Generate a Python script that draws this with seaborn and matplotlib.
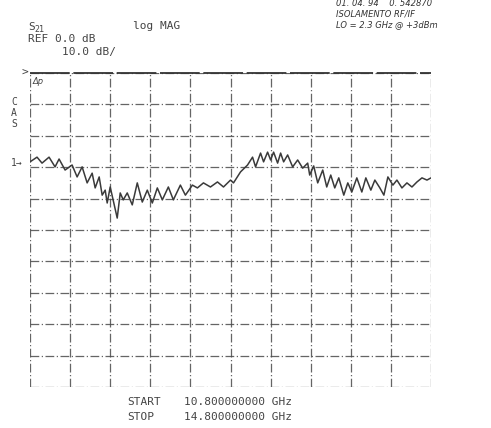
import matplotlib
matplotlib.use('Agg')
import matplotlib.pyplot as plt
import seaborn as sns
import pandas as pd
import numpy as np

# S21 trace (GHz, dB)
freq = [10.80, 10.87, 10.92, 10.99, 11.05, 11.09, 11.15, 11.22, 11.27, 11.32,
        11.37, 11.42, 11.45, 11.49, 11.52, 11.55, 11.57, 11.60, 11.67, 11.70,
        11.73, 11.77, 11.82, 11.87, 11.92, 11.97, 12.02, 12.07, 12.12, 12.18,
        12.23, 12.30, 12.35, 12.42, 12.47, 12.53, 12.60, 12.67, 12.73, 12.80,
        12.83, 12.90, 12.97, 13.02, 13.05, 13.10, 13.13, 13.17, 13.20, 13.23,
        13.27, 13.30, 13.33, 13.37, 13.42, 13.47, 13.52, 13.57, 13.59, 13.63,
        13.67, 13.72, 13.76, 13.80, 13.84, 13.88, 13.93, 13.97, 14.01, 14.06,
        14.11, 14.15, 14.20, 14.24, 14.29, 14.33, 14.37, 14.42, 14.46, 14.51,
        14.56, 14.61, 14.66, 14.71, 14.76, 14.80]
s21 = [-28.3, -26.8, -28.7, -26.8, -29.9, -27.4, -30.9, -29.3, -33.1, -29.9,
       -35.0, -31.9, -36.6, -33.1, -38.9, -37.3, -41.4, -36.3, -46.2, -38.2,
       -40.4, -38.2, -42.0, -35.0, -41.1, -37.3, -41.4, -36.6, -40.4, -36.3,
       -40.4, -35.7, -38.9, -35.7, -36.6, -35.0, -36.3, -34.7, -36.3, -34.1,
       -35.0, -31.5, -29.3, -26.8, -29.9, -25.5, -28.3, -25.2, -27.7, -25.2,
       -28.7, -25.5, -28.3, -26.1, -29.9, -27.7, -30.3, -28.7, -32.5, -29.6,
       -35.0, -30.9, -36.3, -32.5, -36.6, -33.4, -38.9, -35.0, -37.9, -33.4,
       -37.9, -33.4, -37.3, -34.1, -36.6, -38.9, -33.1, -35.7, -34.1, -36.6,
       -35.0, -36.3, -34.7, -33.4, -34.1, -33.4]

f_start, f_stop = 10.8, 14.8
ref_db, db_per_div = 0.0, 10.0

df = pd.DataFrame({'freq': freq, 's21': s21})

sns.set_style('white')
plt.rcParams['font.family'] = ['DejaVu Sans Mono', 'DejaVu Sans']

W, H = 491, 428
fig = plt.figure(figsize=(W / 100, H / 100), dpi=100)
ax = fig.add_axes([30 / W, 1 - 387 / H, 401 / W, 314 / H])

sns.lineplot(data=df, x='freq', y='s21', ax=ax, color='#3a3a3a', lw=1.1)

ax.set_xlim(f_start, f_stop)
ax.set_ylim(ref_db - 10 * db_per_div, ref_db)
ax.set_xticks(np.linspace(f_start, f_stop, 11))
ax.set_yticks(np.linspace(ref_db - 10 * db_per_div, ref_db, 11))
ax.grid(True, color='#4a4a4a', lw=0.9, ls=(0, (7, 2, 1, 2)), alpha=0.85)
for s in ax.spines.values():
    s.set_visible(False)
ax.tick_params(length=0, labelbottom=False, labelleft=False)
ax.set_xlabel('')
ax.set_ylabel('')
ax.axhline(ref_db, color='#333333', lw=1.3, ls=(0, (22, 2)), clip_on=False)

tc = '#444444'
fs = 8
fig.text(28 / W, 1 - 27 / H, 'S', fontsize=fs, color=tc, va='center')
fig.text(34 / W, 1 - 30 / H, '21', fontsize=6, color=tc, va='center')
fig.text(133 / W, 1 - 26 / H, 'log MAG', fontsize=fs, color=tc, va='center')
fig.text(28 / W, 1 - 39 / H, 'REF 0.0 dB', fontsize=fs, color=tc, va='center')
fig.text(62 / W, 1 - 52 / H, '10.0 dB/', fontsize=fs, color=tc, va='center')

hw = dict(fontsize=6, color='#333333', va='center', family='DejaVu Sans',
          style='italic')
fig.text(336 / W, 1 - 3 / H, '01. 04. 94    0. 542870', **hw)
fig.text(336 / W, 1 - 14 / H, 'ISOLAMENTO RF/IF', **hw)
fig.text(336 / W, 1 - 25 / H, 'LO = 2.3 GHz @ +3dBm', **hw)

fig.text(22 / W, 1 - 73 / H, '>', fontsize=8, color=tc, va='center')
fig.text(33 / W, 1 - 81 / H, 'Δp', fontsize=6, color=tc, va='center',
         style='italic', family='DejaVu Sans')
for i, ch in enumerate('CAS'):
    fig.text(14 / W, 1 - (102 + i * 11) / H, ch, fontsize=7, color=tc,
             va='center', ha='center')
fig.text(11 / W, 1 - 163 / H, '1→', fontsize=7, color=tc, va='center')

fig.text(127 / W, 1 - 402 / H, 'START', fontsize=fs, color=tc, va='center')
fig.text(184 / W, 1 - 402 / H, '%.9f GHz' % f_start, fontsize=fs,
         color=tc, va='center')
fig.text(127 / W, 1 - 417 / H, 'STOP', fontsize=fs, color=tc, va='center')
fig.text(184 / W, 1 - 417 / H, '%.9f GHz' % f_stop, fontsize=fs,
         color=tc, va='center')

fig.savefig('out.png', dpi=100)
